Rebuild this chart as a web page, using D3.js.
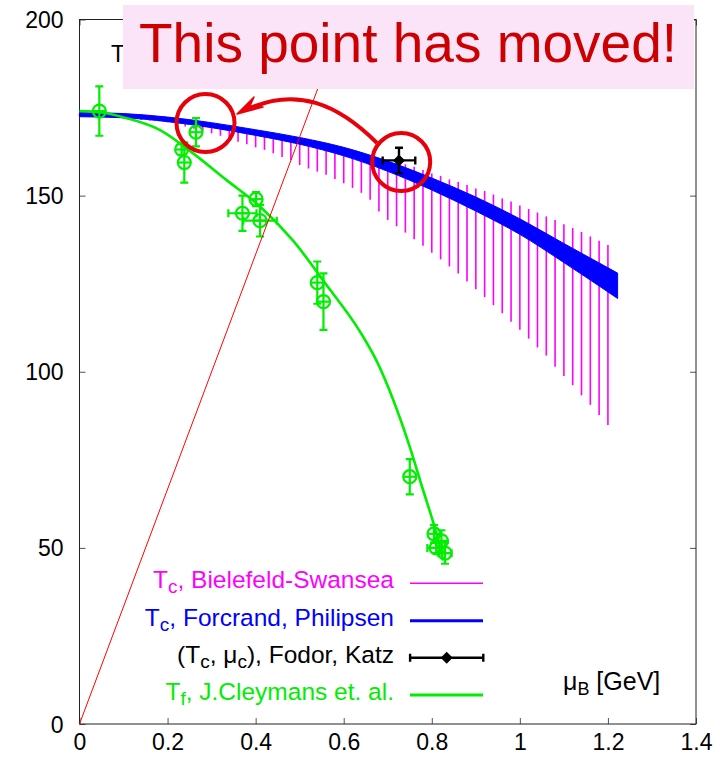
<!DOCTYPE html>
<html>
<head>
<meta charset="utf-8">
<script src="https://cdn.jsdelivr.net/npm/d3@7"></script>
<style>
body { margin: 0; background: #fff; }
svg { display: block; font-family: "Liberation Sans", Arial, sans-serif; }
</style>
</head>
<body>
<svg id="vis" width="720" height="758"></svg>
<script>
// tick values
var xTicks = [0, 0.2, 0.4, 0.6, 0.8, 1, 1.2, 1.4];
var yTicks = [0, 50, 100, 150, 200];

// Bielefeld-Swansea error band, drawn as vertical lines
var bsMu = [0, 0.02, 0.04, 0.06, 0.08, 0.1, 0.12, 0.14, 0.16, 0.18, 0.2, 0.22, 0.24, 0.26, 0.28, 0.3,
    0.32, 0.34, 0.36, 0.38, 0.4, 0.42, 0.44, 0.46, 0.48, 0.5, 0.52, 0.54, 0.56, 0.58, 0.6, 0.62,
    0.64, 0.66, 0.68, 0.7, 0.72, 0.74, 0.76, 0.78, 0.8, 0.82, 0.84, 0.86, 0.88, 0.9, 0.92, 0.94,
    0.96, 0.98, 1, 1.02, 1.04, 1.06, 1.08, 1.1, 1.12, 1.14, 1.16, 1.18, 1.2];
var bsTop = [173.2, 173.2, 173.1, 173.0, 172.9, 172.8, 172.6, 172.4, 172.1, 171.8, 171.5, 171.2, 170.8,
    170.4, 170.0, 169.6, 169.2, 168.8, 168.4, 168.0, 167.6, 167.2, 166.8, 166.3, 165.8, 165.2, 164.6,
    164.0, 163.4, 162.8, 162.2, 161.6, 161.0, 160.6, 160.3, 160.0, 159.5, 158.9, 158.2, 157.3, 156.3,
    155.6, 154.6, 153.9, 153.0, 152.0, 151.3, 150.3, 149.2, 148.3, 147.2, 146.2, 145.2, 144.1, 143.1,
    141.9, 140.8, 139.7, 138.4, 137.2, 136.0];
var bsBot = [172.6, 172.5, 172.4, 172.3, 172.1, 171.9, 171.7, 171.5, 171.3, 171.2, 170.8, 170.2, 169.6,
    169.0, 168.3, 167.7, 167.0, 166.3, 165.3, 164.6, 163.7, 163.0, 162.0, 161.0, 160.1, 158.7, 157.7,
    156.8, 155.9, 154.7, 153.5, 152.2, 150.8, 148.8, 145.5, 143.1, 141.3, 139.5, 137.6, 135.8, 133.8,
    131.9, 129.9, 127.9, 125.6, 123.4, 121.2, 118.9, 116.6, 114.2, 111.9, 109.4, 106.9, 104.6, 101.4,
    98.8, 96.2, 93.3, 90.6, 87.7, 84.9];

// de Forcrand-Philipsen band
var fpMu = [0, 0.1, 0.2, 0.3, 0.4, 0.5, 0.6, 0.7, 0.8, 0.9, 1.0, 1.1, 1.222];
var fpUp = [173.6, 173.3, 172.3, 170.7, 168.7, 166.5, 163.7, 159.8, 155.0, 149.6, 143.4, 136.4, 128.0];
var fpLo = [172.4, 172.1, 171.0, 169.3, 167.1, 164.6, 161.3, 156.9, 151.6, 145.6, 139.0, 131.0, 120.8];

// freeze-out curve
var cfMu = [0, 0.05, 0.107, 0.183, 0.258, 0.334, 0.41, 0.485, 0.561, 0.637, 0.675, 0.7125, 0.75, 0.78, 0.805, 0.826];
var cfT = [174.0, 173.6, 172.0, 168.6, 162.0, 154.4, 146.9, 137.2, 124.6, 111.4, 103.0, 92.0, 78.7, 66.5, 56.5, 46.5];

// freeze-out data points
var ptMu = [0.045, 0.232, 0.238, 0.2645, 0.401, 0.37, 0.41, 0.54, 0.554, 0.75, 0.805, 0.822, 0.81, 0.83];
var ptT = [174.0, 163.1, 159.4, 168.0, 149.0, 145.0, 142.9, 125.3, 119.9, 70.2, 54.0, 52.0, 50.0, 48.5];
var ptErrT = [7, 1.5, 5.7, 4, 2, 5, 4.5, 6, 8, 5, 2.5, 3, 1.5, 3];
var ptErrMu = [0, 0, 0, 0, 0, 0.032, 0.038, 0, 0, 0, 0, 0, 0.02, 0.015];

// Fodor-Katz endpoint
var fkMu = 0.7255, fkT = 160.0, fkErrMu = 0.037, fkErrT = 3.6;

// mu_q = T line
var rlMu = [0, 0.6];
var rlT = [0, 200];

var svg = d3.select("#vis");
var x = d3.scaleLinear().domain([0, 1.4]).range([79.5, 696]);
var y = d3.scaleLinear().domain([0, 200]).range([724, 19.5]);

var GREEN = "#00ee00", MAG = "#ff00ff", BLUE = "#0000ff", RED = "#e8000b";

// axes, ticks inward
function styleAxis(g) {
    g.select(".domain").remove();
    g.selectAll(".tick line").attr("stroke", "#555");
}
svg.append("g").attr("transform", "translate(0,724)")
    .call(d3.axisBottom(x).tickValues(xTicks).tickSize(-6).tickFormat(d3.format("~g")))
    .call(styleAxis)
    .selectAll("text").attr("y", 26).attr("dy", 0).attr("font-size", 23).attr("fill", "#000")
    .attr("font-family", "Liberation Sans, Arial, sans-serif");
svg.append("g").attr("transform", "translate(0,19.5)")
    .call(d3.axisTop(x).tickValues(xTicks).tickSize(-6).tickFormat(""))
    .call(styleAxis);
svg.append("g").attr("transform", "translate(79.5,0)")
    .call(d3.axisLeft(y).tickValues(yTicks).tickSize(-6))
    .call(styleAxis)
    .selectAll("text").attr("x", -16).attr("dy", 8).attr("font-size", 23).attr("fill", "#000")
    .attr("font-family", "Liberation Sans, Arial, sans-serif");
svg.append("g").attr("transform", "translate(696,0)")
    .call(d3.axisRight(y).tickValues(yTicks).tickSize(-6).tickFormat(""))
    .call(styleAxis);
svg.append("rect").attr("x", 79.5).attr("y", 19.5).attr("width", 616.5).attr("height", 704.5)
    .attr("fill", "none").attr("stroke", "#222").attr("stroke-width", 1);

// axis titles (y title sits mostly behind the annotation box, as in the original)
svg.append("text").attr("x", 111).attr("y", 62).attr("font-size", 23).text("T [MeV]");
var xl = svg.append("text").attr("x", 563).attr("y", 690).attr("font-size", 25);
xl.append("tspan").text("\u03bc");
xl.append("tspan").attr("font-size", 18).attr("dy", 5).text("B");
xl.append("tspan").attr("dy", -5).text(" [GeV]");

var plot = svg.append("g");

// Bielefeld-Swansea
plot.selectAll(".bs").data(bsMu).enter().append("line")
    .attr("x1", function(d) { return x(d); }).attr("x2", function(d) { return x(d); })
    .attr("y1", function(d, i) { return y(bsTop[i]); })
    .attr("y2", function(d, i) { return y(bsBot[i]); })
    .attr("stroke", MAG).attr("stroke-width", 1.6);

// Forcrand-Philipsen band
var fpData = fpMu.map(function(m, i) { return {mu: m, up: fpUp[i], lo: fpLo[i]}; });
plot.append("path").datum(fpData)
    .attr("d", d3.area().curve(d3.curveMonotoneX)
        .x(function(d) { return x(d.mu); })
        .y0(function(d) { return y(d.lo); })
        .y1(function(d) { return y(d.up); }))
    .attr("fill", BLUE).attr("stroke", BLUE).attr("stroke-width", 1);

// freeze-out curve
plot.append("path").datum(cfMu.map(function(m, i) { return [m, cfT[i]]; }))
    .attr("d", d3.line().curve(d3.curveMonotoneX)
        .x(function(d) { return x(d[0]); }).y(function(d) { return y(d[1]); }))
    .attr("fill", "none").attr("stroke", GREEN).attr("stroke-width", 2.6);

// freeze-out points
var pts = plot.selectAll(".pt").data(ptMu.map(function(m, i) {
    return {mu: m, t: ptT[i], et: ptErrT[i], em: ptErrMu[i]};
})).enter().append("g").attr("stroke", GREEN).attr("stroke-width", 2.2).attr("fill", "none");
pts.append("line")
    .attr("x1", function(d) { return x(d.mu); }).attr("x2", function(d) { return x(d.mu); })
    .attr("y1", function(d) { return y(d.t + d.et); }).attr("y2", function(d) { return y(d.t - d.et); });
pts.append("path").attr("d", function(d) {
    var cx = x(d.mu), a = y(d.t + d.et), b = y(d.t - d.et);
    return "M" + (cx - 4) + "," + a + "h8M" + (cx - 4) + "," + b + "h8";
});
pts.filter(function(d) { return d.em > 0; }).append("path").attr("d", function(d) {
    var cy = y(d.t), a = x(d.mu - d.em), b = x(d.mu + d.em);
    return "M" + a + "," + cy + "H" + b + "M" + a + "," + (cy - 4) + "v8M" + b + "," + (cy - 4) + "v8";
});
pts.append("circle").attr("cx", function(d) { return x(d.mu); }).attr("cy", function(d) { return y(d.t); })
    .attr("r", 6.5);
pts.append("path").attr("d", function(d) {
    var cx = x(d.mu), cy = y(d.t);
    return "M" + (cx - 6.5) + "," + cy + "h13";
});

// mu_q = T line
plot.append("line")
    .attr("x1", x(rlMu[0])).attr("y1", y(rlT[0]))
    .attr("x2", x(rlMu[1])).attr("y2", y(rlT[1]))
    .attr("stroke", "#ff0000").attr("stroke-width", 1);

// Fodor-Katz point
function fkMark(g, cx, cy, hx, hy) {
    g.append("path").attr("d", "M" + (cx - hx) + "," + cy + "H" + (cx + hx) +
        "M" + (cx - hx) + "," + (cy - 4) + "v8M" + (cx + hx) + "," + (cy - 4) + "v8" +
        (hy ? "M" + cx + "," + (cy - hy) + "V" + (cy + hy) + "M" + (cx - 4) + "," + (cy - hy) + "h8M" +
        (cx - 4) + "," + (cy + hy) + "h8" : ""))
        .attr("stroke", "#000").attr("stroke-width", 2.4).attr("fill", "none");
    g.append("path").attr("d", "M" + cx + "," + (cy - 6) + "L" + (cx + 6) + "," + cy + "L" + cx + "," +
        (cy + 6) + "L" + (cx - 6) + "," + cy + "Z").attr("fill", "#000");
}
fkMark(plot, x(fkMu), y(fkT), x(fkMu + fkErrMu) - x(fkMu), y(fkT - fkErrT) - y(fkT));

// legend
var legend = [
    {label: ["T", "c", ", Bielefeld-Swansea"], color: MAG, w: 1.6},
    {label: ["T", "c", ", Forcrand, Philipsen"], color: BLUE, w: 3},
    {label: ["(T", "c", ", \u03bc", "c", "), Fodor, Katz"], color: "#000", w: 2.2},
    {label: ["T", "f", ", J.Cleymans et. al."], color: GREEN, w: 3}
];
var legY = [583.3, 620.7, 657.7, 695];
legend.forEach(function(L, i) {
    var t = svg.append("text").attr("x", 394).attr("y", legY[i] + 5).attr("text-anchor", "end")
        .attr("font-size", 24.5).attr("fill", L.color);
    L.label.forEach(function(s, j) {
        var sp = t.append("tspan").text(s);
        if (j % 2 == 1) sp.attr("font-size", 19).attr("dy", 5);
        else if (j > 0) sp.attr("dy", -5);
    });
    if (i == 2) {
        fkMark(svg, 446.7, legY[i], 36.6, 0);
    } else {
        svg.append("line").attr("x1", 410).attr("x2", 483).attr("y1", legY[i]).attr("y2", legY[i])
            .attr("stroke", L.color).attr("stroke-width", L.w);
    }
});

// annotation
svg.append("rect").attr("x", 123).attr("y", 5).attr("width", 571).attr("height", 84).attr("fill", "#fce4f8");
svg.append("text").attr("x", 139).attr("y", 62).attr("font-size", 55).attr("fill", "#cc0000")
    .text("This point has moved!");
svg.append("circle").attr("cx", 205.5).attr("cy", 123).attr("r", 29)
    .attr("fill", "none").attr("stroke", RED).attr("stroke-width", 4);
svg.append("circle").attr("cx", 401.2).attr("cy", 162).attr("r", 29)
    .attr("fill", "none").attr("stroke", RED).attr("stroke-width", 4);
svg.append("path").attr("d", "M377,143C338,104 296,86 246,110")
    .attr("fill", "none").attr("stroke", RED).attr("stroke-width", 4);
svg.append("path").attr("d", "M237,114L254,97L250,106L263,107Z").attr("fill", RED).attr("stroke", RED)
    .attr("stroke-width", 1.5).attr("stroke-linejoin", "round");
</script>
</body>
</html>
